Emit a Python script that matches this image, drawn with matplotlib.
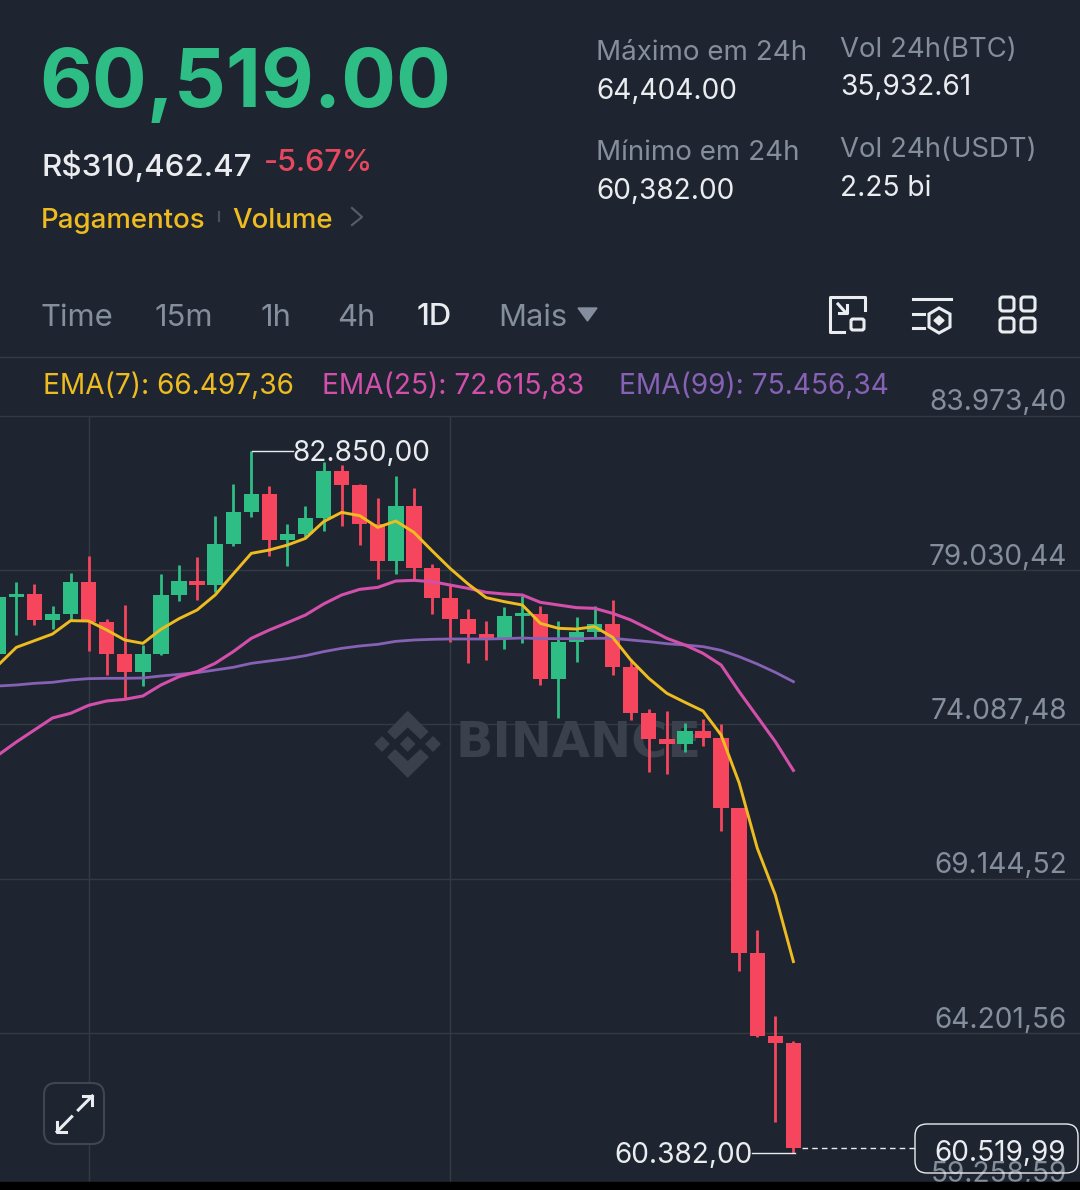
import matplotlib
matplotlib.use("Agg")
import matplotlib.pyplot as plt
from matplotlib.patches import FancyBboxPatch, Polygon, Rectangle

plt.rcParams['font.family'] = ['Inter', 'DejaVu Sans']

BG = '#1e2530'
GREEN = '#2ebd85'
RED = '#f6465d'
YELLOW = '#eebc20'
PINK = '#d44fab'
PURPLE = '#8661b5'
GREY = '#848e9c'
LIGHT = '#eaecef'
GRID = '#343a44'
MARK = '#3b414c'

# candles, oldest first (up = close above open)
opens = [76342, 78177, 78262, 77430, 77622, 78646, 77377, 76342, 75766, 76342, 78219, 78678, 78561,
         79851, 80897, 81451, 80001, 80182, 80683, 82198, 81739, 80502, 79307, 81078, 79105, 78145,
         77451, 76993, 76843, 77558, 77611, 75531, 76737, 77057, 77313, 75926, 74443, 73611, 73462,
         73878, 73665, 71403, 66763, 64129, 63883]
closes = [78177, 78262, 77430, 77622, 78646, 77377, 76342, 75766, 76342, 78219, 78678, 78561, 79851,
          80897, 81451, 80001, 80182, 80683, 82198, 81739, 80502, 79307, 81078, 79105, 78145, 77451,
          76993, 76843, 77558, 77643, 75531, 76737, 77057, 77313, 75926, 74443, 73611, 73462, 73878,
          73665, 71403, 66763, 64129, 63883, 60520]
highs = [79457, 78657, 78582, 77878, 78945, 79478, 77462, 77899, 76630, 78902, 79190, 79457, 80769,
         81782, 82850, 81707, 80502, 81078, 82475, 82379, 81782, 81323, 82038, 81654, 79222, 78550,
         77793, 77409, 77857, 78198, 77889, 77398, 77537, 77889, 78070, 76171, 74582, 74507, 74134,
         74262, 74091, 71403, 67510, 64747, 63969]
lows = [76342, 76950, 77259, 77131, 77409, 76449, 75659, 74912, 75318, 76310, 78038, 78070, 78337,
        79809, 80726, 79489, 79169, 80097, 80278, 80449, 79830, 78753, 78913, 78710, 77632, 76737,
        76043, 76139, 76502, 76705, 75350, 74283, 76097, 76897, 75670, 74230, 72577, 72502, 73206,
        73398, 70688, 66187, 64097, 61377, 60382]

ema7 = [75990, 76555, 76768, 76982, 77409, 77398, 77110, 76790, 76683, 77131, 77472, 77750, 78230,
        78902, 79563, 79670, 79830, 80043, 80577, 80875, 80769, 80395, 80598, 80235, 79649, 79083,
        78582, 78145, 78017, 77910, 77323, 77163, 77142, 77217, 76875, 76150, 75563, 75083, 74795,
        74518, 73750, 72215, 70130, 68630, 66497]
ema25 = [73110, 73526, 73910, 74294, 74443, 74699, 74838, 74891, 74998, 75350, 75617, 75777, 76043,
         76417, 76843, 77110, 77345, 77590, 77942, 78230, 78411, 78475, 78678, 78699, 78657, 78550,
         78443, 78315, 78262, 78230, 77995, 77910, 77825, 77803, 77643, 77430, 77142, 76843, 76630,
         76363, 75990, 75137, 74337, 73537, 72616]
ema99 = [75318, 75350, 75403, 75435, 75510, 75553, 75563, 75563, 75574, 75638, 75691, 75745, 75830,
         75915, 76043, 76118, 76193, 76288, 76417, 76523, 76598, 76651, 76747, 76790, 76811, 76822,
         76822, 76822, 76833, 76854, 76833, 76833, 76833, 76843, 76843, 76790, 76737, 76672, 76630,
         76577, 76459, 76257, 76022, 75755, 75456]

grid_prices = [83973.40, 79030.44, 74087.48, 69144.52, 64201.56, 59258.59]
grid_labels = ['83.973,40', '79.030,44', '74.087,48', '69.144,52', '64.201,56', '59.258,59']
grid_candles = [5, 25]

PX = 4942.96 / 154.43  # price per pixel

fig = plt.figure(figsize=(10.8, 11.9), dpi=100, facecolor=BG)

# chart area, pixel rows 357 to 1182
ax = fig.add_axes([0, (1190 - 1182) / 1190, 1, (1182 - 357) / 1190])
ax.set_facecolor(BG)
ax.set_xlim(1.7 / 18.07, 1081.7 / 18.07)
ax.set_ylim(79030.44 - (1182 - 570) * PX, 79030.44 + (570 - 357) * PX)
for s in ax.spines.values():
    s.set_visible(False)
ax.set_xticks([])
ax.set_yticks([])

# overlay in picture pixels for header, icons and labels
ov = fig.add_axes([0, 0, 1, 1], zorder=5)
ov.set_xlim(0, 1080)
ov.set_ylim(1190, 0)
ov.axis('off')

ax.hlines(grid_prices, 0, 60, color=GRID, lw=1, zorder=1)
ax.vlines(grid_candles, ax.get_ylim()[0], grid_prices[0], color=GRID, lw=1, zorder=1)

# watermark
ax.text(455 / 1080, (1182 - 744) / 825, 'BINANCE', transform=ax.transAxes, color=MARK, fontsize=35.5,
        family='DejaVu Sans', weight='bold', va='center', ha='left', zorder=1.5)
for cx in [382, 407.7, 433]:
    ax.add_patch(Polygon([(cx - 7, 744), (cx, 737), (cx + 7, 744), (cx, 751)], color=MARK, zorder=1.5,
                         transform=ov.transData))
ax.add_patch(Polygon([(407.7, 711.7), (427.7, 731.7), (420.5, 738.5), (407.7, 726.5), (395, 738.5), (388, 731.7)],
                     color=MARK, zorder=1.5, transform=ov.transData))
ax.add_patch(Polygon([(407.7, 777), (428, 757), (420.5, 750), (407.7, 762), (395, 750), (388, 757)],
                     color=MARK, zorder=1.5, transform=ov.transData))

for i in range(len(opens)):
    col = GREEN if closes[i] >= opens[i] else RED
    ax.vlines(i, lows[i], highs[i], color=col, lw=2.0, zorder=2)
    ax.bar(i, abs(closes[i] - opens[i]), bottom=min(opens[i], closes[i]), width=0.85, color=col, zorder=2)

xs = range(len(ema7))
ax.plot(xs, ema99, color=PURPLE, lw=2.0, zorder=3)
ax.plot(xs, ema25, color=PINK, lw=2.2, zorder=3)
ax.plot(xs, ema7, color=YELLOW, lw=2.1, zorder=3)

# price axis labels
for p, lab in zip(grid_prices, grid_labels):
    ax.annotate(lab, xy=(1, p), xycoords=ax.get_yaxis_transform(), xytext=(-13, 13),
                textcoords='offset pixels', color=GREY, fontsize=20.2, ha='right', va='center',
                annotation_clip=False, zorder=4)

# high and low markers
ov.plot([252, 293], [451, 451], color=LIGHT, lw=1)
ov.text(292, 453, '82.850,00', color=LIGHT, fontsize=20.2, va='center')
ov.plot([752, 795], [1153, 1153], color=LIGHT, lw=1)
ov.text(753, 1155, '60.382,00', color=LIGHT, fontsize=20.2, va='center', ha='right')

# last price
ov.plot([802, 915], [1148, 1148], color=LIGHT, lw=1, ls=(0, (4, 3)))
ov.add_patch(FancyBboxPatch((923, 1132), 147, 33, boxstyle='round,pad=8,rounding_size=12', fc='none', ec=LIGHT, lw=1))
ov.text(1066, 1153, '60.519,99', color=LIGHT, fontsize=20.2, va='center', ha='right')

# strip under the chart
ov.add_patch(Rectangle((0, 1182), 1080, 8, color='black', zorder=6))

# EMA legend
ov.text(43, 386, 'EMA(7): 66.497,36', color=YELLOW, fontsize=20.2, va='center')
ov.text(322, 386, 'EMA(25): 72.615,83', color=PINK, fontsize=20.2, va='center')
ov.text(619, 386, 'EMA(99): 75.456,34', color=PURPLE, fontsize=20.2, va='center')

ov.plot([0, 1080], [357, 357], color=GRID, lw=1)

# header
ov.text(39, 86, '60,519.00', color=GREEN, fontsize=58.5, weight='bold', va='center')
ov.text(41, 166, 'R$310,462.47', color=LIGHT, fontsize=22.6, weight='medium', va='center')
ov.text(264, 163, '-5.67%', color='#e8485f', fontsize=22, weight='medium', va='center')
ov.text(41, 221, 'Pagamentos', color=YELLOW, fontsize=19.9, weight='medium', va='center')
ov.plot([219, 219], [212, 221], color='#4a4f58', lw=1.6)
ov.text(232, 221, 'Volume', color=YELLOW, fontsize=19.9, weight='medium', va='center')
ov.plot([352, 362, 352], [208, 217, 225], color='#555c66', lw=1.6)

ov.text(596, 53, 'Máximo em 24h', color=GREY, fontsize=20, va='center')
ov.text(596, 91, '64,404.00', color=LIGHT, fontsize=20.2, va='center')
ov.text(596, 153, 'Mínimo em 24h', color=GREY, fontsize=20, va='center')
ov.text(596, 191, '60,382.00', color=LIGHT, fontsize=20.2, va='center')
ov.text(840, 50, 'Vol 24h(BTC)', color=GREY, fontsize=19.8, va='center')
ov.text(840, 88, '35,932.61', color=LIGHT, fontsize=20.2, va='center')
ov.text(840, 150, 'Vol 24h(USDT)', color=GREY, fontsize=19.8, va='center')
ov.text(840, 188, '2.25 bi', color=LIGHT, fontsize=20.2, va='center')

# timeframe tabs
for x, lab in [(40, 'Time'), (155, '15m'), (261, '1h'), (337, '4h'), (498, 'Mais')]:
    ov.text(x, 318, lab, color=GREY, fontsize=22.3, va='center')
ov.text(417, 317, '1D', color=LIGHT, fontsize=22.3, weight='medium', va='center')
ov.add_patch(Polygon([(578, 308), (597, 308), (587.5, 321)], color=GREY))

# toolbar icons
lw_icon = 2.2
ov.plot([844, 830, 830, 865, 865], [332, 332, 297, 297, 310], color=LIGHT, lw=lw_icon)
ov.add_patch(FancyBboxPatch((852, 320), 11, 9, boxstyle='round,pad=1,rounding_size=2', fc='none', ec=LIGHT, lw=lw_icon))
ov.plot([838, 846], [304, 313], color=LIGHT, lw=lw_icon)
ov.plot([839, 847, 847], [313, 313, 305], color=LIGHT, lw=lw_icon)

ov.plot([913, 951], [299, 299], color=LIGHT, lw=lw_icon)
ov.plot([913, 924], [314, 314], color=LIGHT, lw=lw_icon)
ov.plot([913, 924], [328, 328], color=LIGHT, lw=lw_icon)
ov.add_patch(Polygon([(939, 308), (950, 314), (950, 327), (939, 333), (929, 327), (929, 314)], fc='none', ec=LIGHT, lw=lw_icon))
ov.add_patch(Polygon([(939, 316), (944, 320.5), (939, 325), (934, 320.5)], color=LIGHT))

for x in [1000, 1021]:
    for y in [297, 318]:
        ov.add_patch(FancyBboxPatch((x + 2, y + 2), 10, 10, boxstyle='round,pad=2,rounding_size=3', fc='none', ec=LIGHT, lw=lw_icon))

# expand button
ov.add_patch(FancyBboxPatch((52, 1091), 44, 45, boxstyle='round,pad=8,rounding_size=12', fc=BG, ec='#3f4650', lw=1.5))
ov.plot([78.3, 92.3], [1110, 1096], color=LIGHT, lw=lw_icon)
ov.plot([83.3, 92.3, 92.3], [1096, 1096, 1105], color=LIGHT, lw=lw_icon)
ov.plot([57, 71.7], [1131.7, 1116.7], color=LIGHT, lw=lw_icon)
ov.plot([57, 57, 66], [1122, 1131.7, 1131.7], color=LIGHT, lw=lw_icon)

fig.savefig('out.png', dpi=100, facecolor=BG)
